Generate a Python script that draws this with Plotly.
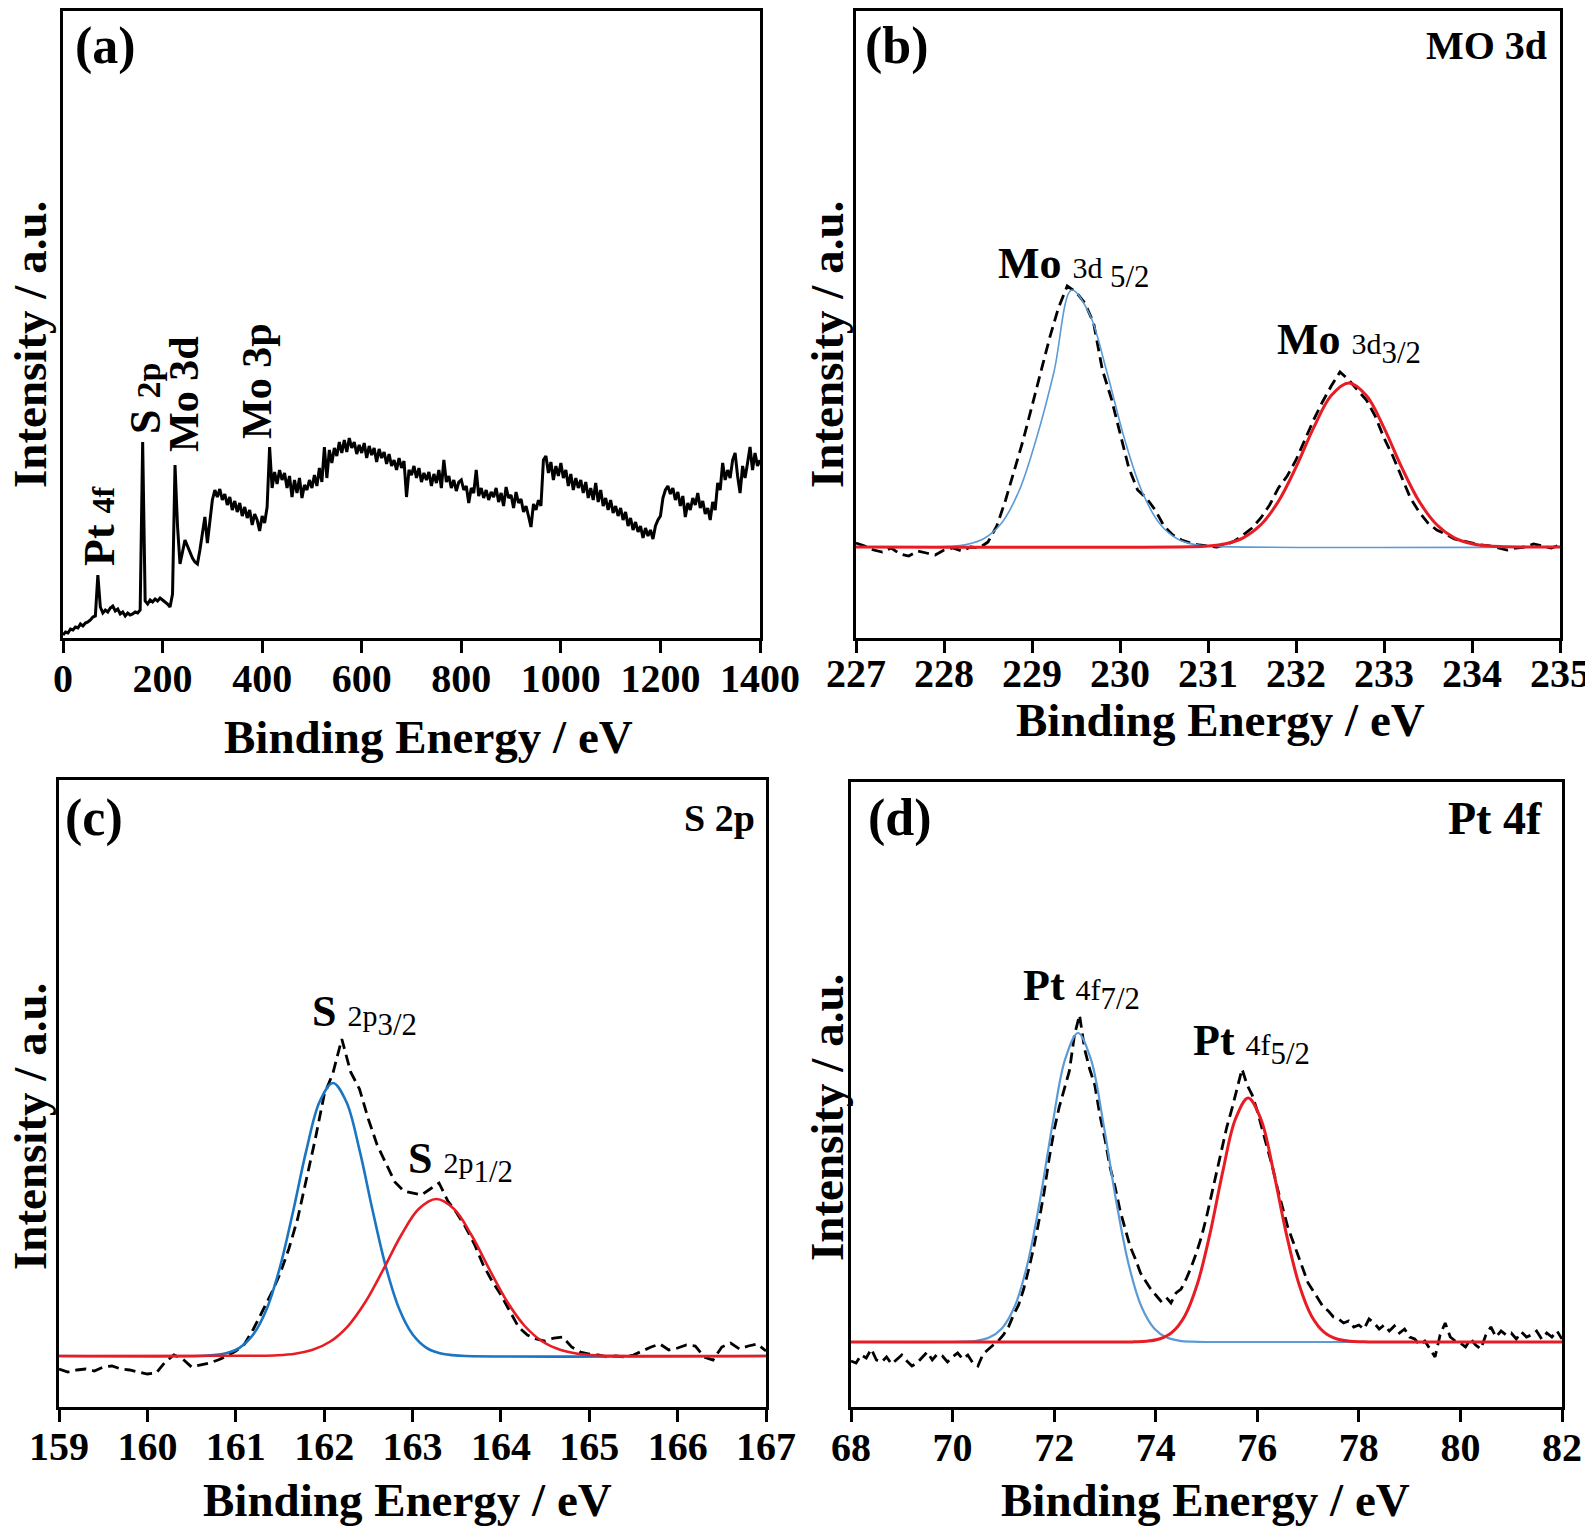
import numpy as np
import plotly.graph_objects as go

# page size, and the 8 px body margin the html page adds around the figure
W, H = 1593, 1532
OX, OY = 8, 8
FW, FH = W - OX, H - OY
FONT = "Liberation Serif"
BLUE_LIGHT = "#5B9BD5"
BLUE_DEEP = "#1A75C2"
RED = "#E81C24"

# (a) survey spectrum, 5 eV steps, intensity in arbitrary units
SURVEY_BE = np.arange(0, 1405, 5)
SURVEY_I = [
    3, 6, 5, 9, 8, 11, 10, 14, 12, 15,
    16, 18, 21, 22, 63, 31, 25, 28, 26, 30,
    32, 27, 29, 24, 26, 22, 25, 23, 24, 26,
    25, 28, 196, 37, 34, 38, 36, 39, 37, 40,
    38, 36, 34, 31, 44, 173, 112, 74, 86, 98,
    92, 85, 80, 76, 74, 88, 104, 121, 95, 118,
    138, 148, 141, 149, 138, 144, 133, 141, 128, 137,
    126, 135, 122, 131, 120, 128, 113, 124, 118, 107,
    122, 115, 131, 191, 150, 166, 154, 168, 158, 165,
    150, 162, 141, 158, 145, 160, 140, 153, 148, 158,
    150, 163, 152, 170, 156, 191, 160, 188, 175, 190,
    182, 196, 185, 198, 186, 200, 190, 196, 184, 193,
    185, 195, 180, 192, 183, 190, 176, 189, 180, 186,
    174, 184, 172, 178, 168, 180, 170, 177, 141, 168,
    163, 172, 160, 170, 156, 165, 158, 166, 152, 164,
    155, 168, 150, 178, 156, 162, 150, 158, 147, 156,
    158, 148, 152, 135, 150, 145, 168, 142, 150, 140,
    148, 138, 146, 141, 150, 136, 145, 132, 151, 140,
    143, 130, 146, 135, 139, 126, 132, 122, 111, 134,
    128, 138, 132, 178, 182, 165, 176, 158, 172, 162,
    175, 160, 168, 152, 164, 148, 160, 150, 158, 145,
    156, 140, 150, 138, 155, 136, 148, 132, 140, 128,
    138, 125, 132, 122, 130, 118, 126, 112, 120, 108,
    116, 106, 112, 100, 110, 102, 108, 99, 112, 118,
    122, 140, 148, 152, 144, 150, 138, 146, 132, 142,
    121, 135, 128, 140, 133, 145, 130, 137, 124, 130,
    118, 136, 128, 155, 148, 175, 158, 168, 160, 178,
    185, 162, 145, 172, 160, 175, 191, 168, 185, 172,
    178,
]

# (b) Mo 3d
MO_BE = np.round(np.arange(227.0, 235.05, 0.1), 2)
MO_I = [
    95, 92, 88, 86, 90, 84, 82, 87, 85, 83,
    88, 90, 87, 91, 90, 96, 112, 138, 168, 198,
    232, 265, 300, 330, 352, 346, 335, 315, 268, 240,
    205, 170, 148, 140, 128, 112, 103, 98, 95, 93,
    92, 91, 93, 97, 103, 110, 120, 133, 150, 162,
    178, 198, 218, 236, 252, 266, 258, 248, 238, 222,
    200, 182, 160, 140, 126, 115, 108, 104, 99, 97,
    95, 93, 92, 90, 88, 90, 91, 94, 92, 90,
    93,
]
MO52_BE = [227.0, 227.8, 228.05, 228.25, 228.45, 228.65, 228.85, 229.05, 229.25,
           229.45, 229.65, 229.85, 230.05, 230.25, 230.45, 230.65, 230.85, 231.1, 235.0]
MO52_I = [91, 91, 91.6, 93.4, 99.2, 114.5, 146.5, 199.5, 266.3,
          348, 324.6, 266.3, 199.5, 146.5, 114.5, 99.2, 93.4, 91.6, 91]
MO32_BE = [227.0, 230.8, 231.0, 231.2, 231.4, 231.6, 231.8, 232.0, 232.2, 232.4,
           232.6, 232.8, 233.0, 233.2, 233.4, 233.6, 233.8, 234.0, 234.2, 234.4, 235.0]
MO32_I = [91, 91.3, 92, 94.3, 100.2, 113.2, 136.6, 170.8, 210.1, 242.4,
          255, 242.4, 210.1, 170.8, 136.6, 113.2, 100.2, 94.3, 92, 91.3, 91]

# (c) S 2p
S_BE = np.round(np.arange(159.0, 167.05, 0.1), 2)
S_I = [
    38, 35, 37, 38, 36, 40, 41, 38, 37, 35,
    33, 34, 45, 52, 48, 40, 42, 44, 47, 51,
    56, 63, 78, 96, 113, 133, 158, 188, 228, 268,
    312, 334, 368, 335, 318, 288, 262, 243, 225, 216,
    214, 212, 218, 224, 206, 194, 180, 163, 142, 126,
    112, 96, 80, 72, 68, 66, 69, 70, 60, 55,
    53, 52, 50, 51, 50, 52, 56, 60, 63, 57,
    59, 62, 61, 50, 47, 60, 64, 58, 61, 63,
    56,
]
S32_BE = [159.0, 160.6, 160.75, 160.9, 161.05, 161.2, 161.35, 161.5, 161.65, 161.8, 161.95,
          162.1, 162.25, 162.4, 162.55, 162.7, 162.85, 163.0, 163.15, 163.3, 163.45, 163.6, 167.0]
S32_I = [51, 51, 51.9, 54, 59.7, 72.7, 98, 139.7, 196, 257.1, 305.5,
         324, 305.5, 257.1, 196, 139.7, 98, 72.7, 59.7, 54, 51.9, 51, 51]
S12_BE = [159.0, 161.27, 161.47, 161.67, 161.87, 162.07, 162.27, 162.47, 162.67, 162.87, 163.07,
          163.27, 163.47, 163.67, 163.87, 164.07, 164.27, 164.47, 164.67, 164.87, 165.07, 165.27, 167.0]
S12_I = [51, 51.2, 51.7, 53.3, 57.2, 65.5, 81, 105.5, 137.6, 171.5, 198,
         208, 198, 171.5, 137.6, 105.5, 81, 65.5, 57.2, 53.3, 51.7, 51.2, 51]

# (d) Pt 4f
PT_BE = np.round(np.arange(68.0, 82.05, 0.1), 2)
PT_I = [
    46, 44, 52, 49, 58, 47, 45, 50, 43, 48,
    52, 46, 41, 44, 50, 55, 47, 53, 51, 45,
    50, 54, 48, 52, 44, 41, 53, 58, 62, 66,
    72, 80, 92, 102, 118, 138, 160, 186, 214, 248,
    277, 300, 318, 336, 372, 392, 358, 338, 322, 292,
    268, 240, 220, 196, 178, 160, 148, 134, 126, 118,
    112, 106, 110, 104, 114, 118, 128, 140, 154, 170,
    190, 212, 236, 258, 280, 298, 318, 338, 322, 312,
    296, 278, 258, 240, 218, 200, 180, 166, 152, 138,
    124, 116, 108, 100, 96, 90, 88, 84, 86, 80,
    82, 78, 88, 84, 78, 82, 76, 81, 74, 78,
    70, 68, 62, 66, 58, 50, 72, 84, 70, 66,
    64, 60, 68, 62, 58, 72, 80, 70, 76, 72,
    74, 68, 75, 70, 72, 76, 68, 74, 70, 76,
    68,
]
PT72_BE = [68.0, 70.0, 70.22, 70.47, 70.72, 70.97, 71.22, 71.47, 71.72, 71.97, 72.22,
           72.47, 72.72, 72.97, 73.22, 73.47, 73.72, 73.97, 74.22, 74.47, 74.72, 75.0, 82.0]
PT72_I = [65, 65, 65.3, 66.2, 69.4, 78.6, 100.2, 142, 206.5, 283.4, 348.3,
          374, 348.3, 283.4, 206.5, 142, 100.2, 78.6, 69.4, 66.2, 65.3, 65, 65]
PT52_BE = [68.0, 73.5, 73.57, 73.82, 74.07, 74.32, 74.57, 74.82, 75.07, 75.32, 75.57,
           75.82, 76.07, 76.32, 76.57, 76.82, 77.07, 77.32, 77.57, 77.82, 78.07, 78.2, 82.0]
PT52_I = [65, 65, 65.2, 65.8, 68, 74.6, 90.8, 123, 173.7, 235.4, 288,
          309, 288, 235.4, 173.7, 123, 90.8, 74.6, 68, 65.8, 65.2, 65, 65]

assert len(SURVEY_I) == len(SURVEY_BE)
assert len(MO_I) == len(MO_BE)
assert len(S_I) == len(S_BE)
assert len(PT_I) == len(PT_BE)


def px(x, y):
    """page pixel -> paper fraction, clamped to the figure"""
    fx = (x - OX) / FW
    fy = 1 - (y - OY) / FH
    return min(max(fx, 0), 1), min(max(fy, 0), 1)


# panel frames in page pixels: (left, right, top, bottom); stand = label offset
PANELS = {
    "": dict(box=(63, 760, 11, 638), xr=[0, 1400], dt=200, yr=[0, 627], stand=-9),
    "2": dict(box=(856, 1560, 11, 638), xr=[227, 235], dt=1, yr=[0, 627], stand=-14),
    "3": dict(box=(59, 766, 780, 1407), xr=[159, 167], dt=1, yr=[0, 627], stand=-10),
    "4": dict(box=(851, 1562, 782, 1407), xr=[68, 82], dt=2, yr=[0, 625], stand=-9),
}

fig = go.Figure()


def add_line(key, x, y, color, width, dash="solid", shape="linear"):
    fig.add_trace(go.Scatter(
        x=x, y=y, mode="lines", xaxis="x" + key, yaxis="y" + key,
        line=dict(color=color, width=width, dash=dash, shape=shape), hoverinfo="skip",
    ))


DASH = "11px,6px"
add_line("", SURVEY_BE, SURVEY_I, "black", 3)

add_line("2", MO_BE, MO_I, "black", 2.8, DASH)
add_line("2", MO52_BE, MO52_I, BLUE_LIGHT, 1.6, shape="spline")
add_line("2", MO32_BE, MO32_I, RED, 3, shape="spline")

add_line("3", S_BE, S_I, "black", 2.8, DASH)
add_line("3", S32_BE, S32_I, BLUE_DEEP, 2.6, shape="spline")
add_line("3", S12_BE, S12_I, RED, 2.6, shape="spline")

add_line("4", PT_BE, PT_I, "black", 2.8, DASH)
add_line("4", PT72_BE, PT72_I, BLUE_LIGHT, 2.2, shape="spline")
add_line("4", PT52_BE, PT52_I, RED, 3, shape="spline")

for key, p in PANELS.items():
    left, right, top, bottom = p["box"]
    x0, y0 = px(left, bottom)
    x1, y1 = px(right, top)
    fig.update_layout(**{
        "xaxis" + key: dict(
            domain=[x0, x1], range=p["xr"], anchor="y" + key, automargin=False,
            tick0=p["xr"][0], dtick=p["dt"], ticks="outside", ticklen=12, tickwidth=3,
            tickcolor="black", showline=True, mirror=True, linewidth=3, linecolor="black",
            showgrid=False, zeroline=False, ticklabelstandoff=p["stand"],
            tickfont=dict(family=FONT, size=40, color="black", weight="bold"),
        ),
        "yaxis" + key: dict(
            domain=[y0, y1], range=p["yr"], anchor="x" + key, automargin=False,
            showticklabels=False, ticks="", showline=True, mirror=True, linewidth=3,
            linecolor="black", showgrid=False, zeroline=False,
        ),
    })

annotations = []


def note(text, x, y, size, xanchor="center", angle=0, weight="normal"):
    ax, ay = px(x, y)
    annotations.append(dict(
        text=text, x=ax, y=ay, xref="paper", yref="paper", showarrow=False,
        xanchor=xanchor, yanchor="middle", textangle=angle,
        font=dict(family=FONT, size=size, color="black", weight=weight),
    ))


# panel letters and core-level tags
for label, x, y in [("(a)", 105, 46), ("(b)", 897, 46), ("(c)", 94, 818), ("(d)", 900, 818)]:
    note(f"<b>{label}</b>", x, y, 52)
note("<b>MO 3d</b>", 1549, 46, 40, xanchor="right")
note("<b>S 2p</b>", 757, 818, 38, xanchor="right")
note("<b>Pt 4f</b>", 1544, 818, 46, xanchor="right")

# axis titles
for x, y in [(428, 737), (1220, 720), (407, 1500), (1205, 1500)]:
    note("<b>Binding Energy / eV</b>", x, y, 47)
for x, y in [(30, 345), (827, 344), (30, 1127), (827, 1117)]:
    note("<b>Intensity / a.u.</b>", x, y, 47, angle=-90)

# survey peak labels
note("<b>Pt</b> <span style='font-size:32px'><b>4f</b></span>", 99, 526, 44, angle=-90)
note("<b>S</b> <span style='font-size:34px'><b>2p</b></span>", 145, 399, 44, angle=-90)
note("<b>Mo 3d</b>", 184, 394, 42, angle=-90)
note("<b>Mo 3p</b>", 257, 381, 42, angle=-90)

# fitted component labels
SUB = "<span style='font-size:30px'>{}</span><sub>{}</sub>"
note("<b>Mo</b> " + SUB.format("3d ", "5/2"), 996, 266, 44, xanchor="left")
note("<b>Mo</b> " + SUB.format("3d", "3/2"), 1275, 343, 44, xanchor="left")
note("<b>S</b> " + SUB.format("2p", "3/2"), 310, 1014, 44, xanchor="left")
note("<b>S</b> " + SUB.format("2p", "1/2"), 406, 1161, 44, xanchor="left")
note("<b>Pt</b> " + SUB.format("4f", "7/2"), 1021, 988, 44, xanchor="left")
note("<b>Pt</b> " + SUB.format("4f", "5/2"), 1191, 1043, 44, xanchor="left")

fig.update_layout(
    width=FW, height=FH,
    margin=dict(l=0, r=0, t=0, b=0, autoexpand=False),
    paper_bgcolor="white", plot_bgcolor="white",
    showlegend=False,
    annotations=annotations,
)

fig.write_html("out.html")
